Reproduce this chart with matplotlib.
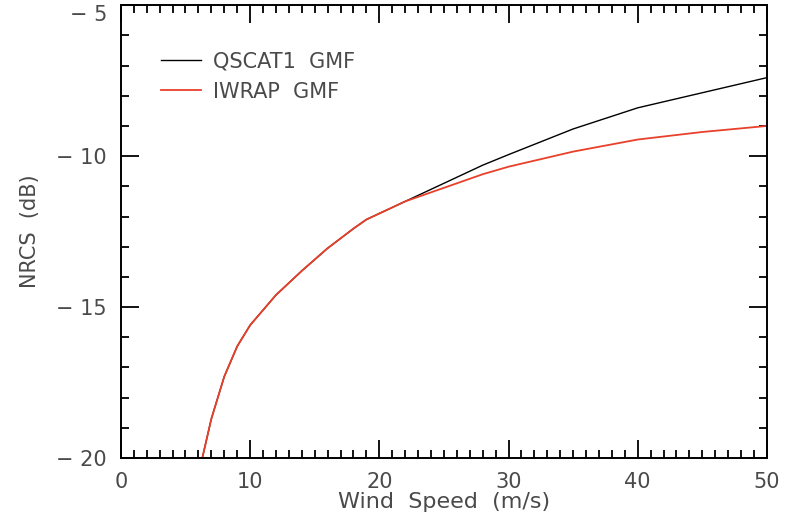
import numpy as np
import matplotlib.pyplot as plt
from matplotlib.ticker import MultipleLocator

# wind speed (m/s)
wind_iwrap = [6.3, 7, 8, 9, 10, 12, 14, 16, 18, 19, 20, 22, 24, 26, 28, 30, 35, 40, 45, 50]
nrcs_iwrap = [-20.0, -18.7, -17.3, -16.3, -15.6, -14.6, -13.8, -13.05, -12.4, -12.1, -11.9,
              -11.5, -11.2, -10.9, -10.6, -10.35, -9.85, -9.45, -9.2, -9.0]

wind_qscat = [6.3, 7, 8, 9, 10, 12, 14, 16, 18, 19, 20, 22, 24, 26, 28, 30, 35, 40, 45, 50]
nrcs_qscat = [-20.0, -18.7, -17.3, -16.3, -15.6, -14.6, -13.8, -13.05, -12.4, -12.1, -11.9,
              -11.5, -11.1, -10.7, -10.3, -9.95, -9.1, -8.4, -7.9, -7.4]

txt = '#4a4a4a'
fs = 15

fig = plt.figure(figsize=(7.85, 5.17), dpi=100)
ax = fig.add_axes([0.154, 0.114, 0.823, 0.876])

ax.plot(wind_qscat, nrcs_qscat, color='black', lw=1.0, label='QSCAT1  GMF')
ax.plot(wind_iwrap, nrcs_iwrap, color='#e8402a', lw=1.3, label='IWRAP  GMF')

ax.set_xticks([0, 10, 20, 30, 40, 50])
ax.xaxis.set_minor_locator(MultipleLocator(1))
ax.set_yticks([-20, -15, -10, -5])
ax.set_yticklabels(['\u2212 20', '\u2212 15', '\u2212 10', '\u2212 5'])
ax.yaxis.set_minor_locator(MultipleLocator(1))
ax.set_xlim(0, 50)
ax.set_ylim(-20, -5)
ax.tick_params(which='both', direction='in', top=True, right=True, width=1.3,
               colors='black', labelcolor=txt, labelsize=fs, pad=10)
ax.tick_params(which='major', length=13)
ax.tick_params(which='minor', length=6)
for s in ax.spines.values():
    s.set_linewidth(1.4)

# top label sits just below the frame edge, as in the original
ax.get_yticklabels()[-1].set_verticalalignment('top')

ax.set_xlabel('Wind  Speed  (m/s)', fontsize=16, color=txt, labelpad=0)
ax.set_ylabel('NRCS  (dB)', fontsize=fs, color=txt, labelpad=12)

leg = ax.legend(loc='upper left', bbox_to_anchor=(0.033, 0.94), frameon=False,
                handlelength=1.9, handletextpad=0.6, labelspacing=0.5, fontsize=fs)
for t in leg.get_texts():
    t.set_color(txt)

fig.savefig('out.png', dpi=100)
